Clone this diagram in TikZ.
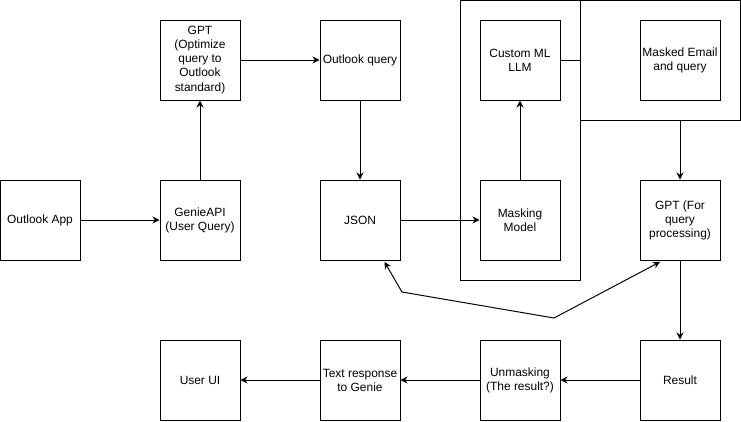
\documentclass[tikz,border=0pt]{standalone}
\usepackage{fontspec}
\setmainfont{Liberation Sans}
\usetikzlibrary{arrows.meta}

\begin{document}
\begin{tikzpicture}[
  box/.style={draw, line width=0.7pt, minimum width=2cm, minimum height=2cm,
    align=center, inner sep=1pt, font=\fontsize{8.5}{10}\selectfont},
  group/.style={draw, line width=0.7pt, inner sep=0pt},
  flow/.style={line width=0.7pt, -{Stealth[length=5pt,width=5pt]}}
]
\useasboundingbox (0,0) rectangle (18.525,-10.525);

% containers
\node[group, minimum width=3cm, minimum height=7cm] (maskgroup) at (13,-3.5) {};
\node[group, minimum width=4cm, minimum height=3cm] (emailgroup) at (16.5,-1.5) {};

% top row
\node[box] (gptopt) at (5,-1.5) {GPT\\(Optimize\\query to\\Outlook\\standard)};
\node[box] (oquery) at (9,-1.5) {Outlook query};
\node[box] (customml) at (13,-1.5) {Custom ML\\LLM};
\node[box] (maskedmail) at (17,-1.5) {Masked Email\\and query};

% middle row
\node[box] (oapp) at (1,-5.5) {Outlook App};
\node[box] (genie) at (5,-5.5) {GenieAPI\\(User Query)};
\node[box] (json) at (9,-5.5) {JSON};
\node[box] (masking) at (13,-5.5) {Masking\\Model};
\node[box] (gptproc) at (17,-5.5) {GPT (For\\query\\processing)};

% bottom row
\node[box] (userui) at (5,-9.5) {User UI};
\node[box] (textresp) at (9,-9.5) {Text response\\to Genie};
\node[box] (unmask) at (13,-9.5) {Unmasking\\(The result?)};
\node[box] (result) at (17,-9.5) {Result};

\draw[flow] (oapp) -- (genie);
\draw[flow] (genie) -- (gptopt);
\draw[flow] (gptopt) -- (oquery);
\draw[flow] (oquery) -- (json);
\draw[flow] (json) -- (masking);
\draw[flow] (masking) -- (customml);
\draw[line width=0.7pt] (customml) -- (emailgroup);
\draw[flow] (emailgroup.south -| gptproc) -- (gptproc);
\draw[flow] (gptproc) -- (result);
\draw[flow] (result) -- (unmask);
\draw[flow] (unmask) -- (textresp);
\draw[flow] (textresp) -- (userui);

% link between JSON and GPT
\coordinate (bendA) at (10.05,-7.3);
\coordinate (bendB) at (13.85,-7.95);
\draw[line width=0.7pt, {Stealth[length=5pt,width=5pt]}-{Stealth[length=5pt,width=5pt]}]
  ([xshift=-0.4cm,yshift=-1pt]json.south east) -- (bendA) -- (bendB)
  -- ([xshift=-0.5cm,yshift=-1pt]gptproc.south);
\end{tikzpicture}
\end{document}
